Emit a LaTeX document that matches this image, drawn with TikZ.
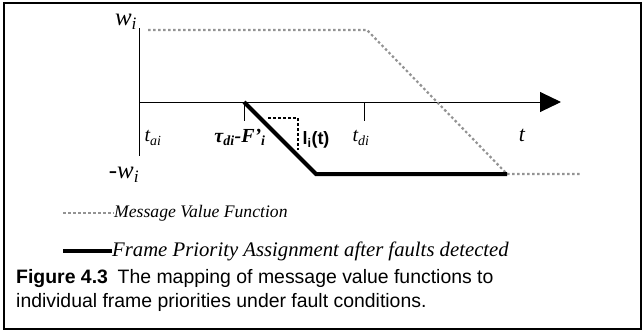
\documentclass[tikz,border=0pt]{standalone}
\usepackage{fontspec}
\setmainfont{Liberation Serif}
\setsansfont{Liberation Sans}
\usetikzlibrary{arrows.meta}
\newcommand\lsub[1]{\textsubscript{#1}}
\tikzset{
  valuefn/.style={draw=gray!85, line width=2.2bp, dash pattern=on 2.5bp off 2.5bp},
  priofn/.style={draw=black, line width=4bp},
  lbl/.style={font=\fontsize{20}{22}\selectfont\itshape, inner sep=0pt},
  legtext/.style={font=\fontsize{19}{22}\selectfont\itshape, anchor=west, inner sep=0pt}
}
\begin{document}
\begin{tikzpicture}[x=1bp,y=-1bp]
  \useasboundingbox (0,0) rectangle (642,331);
  \draw[line width=1.5bp] (4,3) rectangle (641,329);
  % axes
  \coordinate (origin) at (139,102);
  \coordinate (ytop) at (139,28);
  \coordinate (ybot) at (139,156);
  \coordinate (xend) at (561,102);
  \draw[line width=1bp] (ytop) -- (ybot);
  \draw[line width=1bp, -{Triangle[length=21bp,width=20bp]}] (origin) -- (xend);
  \coordinate (tau) at (244,102);
  \coordinate (tdi) at (364,102);
  \draw[line width=1bp] (tau) -- (244,121);
  \draw[line width=1bp] (tdi) -- (364,121);
  % labels
  \node[lbl, font=\fontsize{25}{27}\selectfont\itshape] (wi) at (126,22) {w\lsub{i}};
  \node[lbl, font=\fontsize{25}{27}\selectfont\itshape] (mwi) at (124,175) {-w\lsub{i}};
  \node[lbl] (tai) at (153,138) {t\lsub{ai}};
  \node[lbl, font=\fontsize{20}{22}\selectfont\bfseries\itshape] (taulbl) at (240,137) {τ\lsub{di}-F'\lsub{i}};
  \node[lbl, font=\fontsize{18}{20}\selectfont\sffamily\bfseries] (lit) at (316,140) {l\lsub{i}(t)};
  \node[lbl] (tdilbl) at (361,138) {t\lsub{di}};
  \node[lbl, font=\fontsize{22}{24}\selectfont\itshape] (tlbl) at (522,135) {t};
  % message value function
  \coordinate (v1) at (148,30);
  \coordinate (v2) at (367,30);
  \coordinate (v3) at (507,174);
  \coordinate (v4) at (580,174);
  \draw[valuefn] (v1) -- (v2) -- (v3) -- (v4);
  % frame priority assignment
  \coordinate (p1) at (316,174);
  \draw[priofn] (tau) -- (p1) -- (v3);
  % l_i(t)
  \draw[line width=2bp, dash pattern=on 3bp off 2bp] (268,118) -- (298,118) -- (298,150);
  % legend
  \coordinate (l1a) at (63,213);
  \coordinate (l1b) at (114,213);
  \coordinate (l2a) at (63,251);
  \coordinate (l2b) at (112,251);
  \draw[valuefn] (l1a) -- (l1b);
  \node[legtext, font=\fontsize{17.7}{22}\selectfont\itshape] (leg1) at (l1b) {Message Value Function};
  \draw[priofn] (l2a) -- (l2b);
  \node[legtext, font=\fontsize{20.8}{22}\selectfont\itshape] (leg2) at (l2b) {Frame Priority Assignment after faults detected};
  % caption
  \node[anchor=west, inner sep=0pt, font=\fontsize{19.5}{23}\selectfont\sffamily] (cap1) at (16,279)
    {\textbf{Figure 4.3}\enspace The mapping of message value functions to};
  \node[anchor=west, inner sep=0pt, font=\fontsize{19.5}{23}\selectfont\sffamily] (cap2) at (16,302)
    {individual frame priorities under fault conditions.};
\end{tikzpicture}
\end{document}
